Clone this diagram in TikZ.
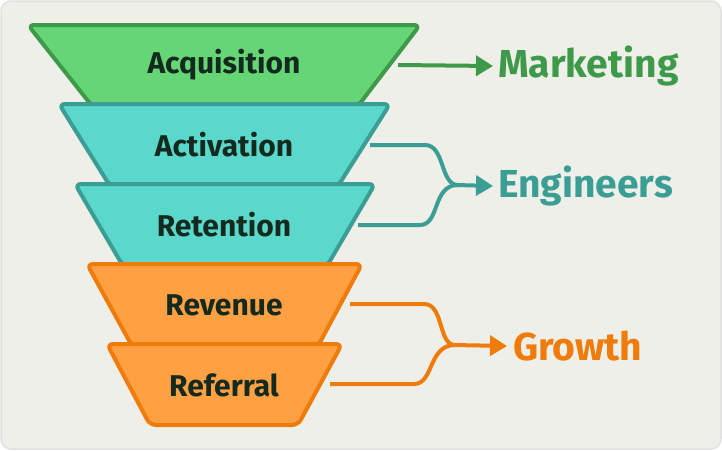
\documentclass[tikz,border=0pt]{standalone}
\usepackage{fontspec}
\setmainfont{Fira Sans}
\usetikzlibrary{arrows.meta}
\definecolor{bg}{HTML}{EFEFEA}
\definecolor{gF}{HTML}{66D575}\definecolor{gS}{HTML}{3E9A4A}
\definecolor{tF}{HTML}{5AD8CB}\definecolor{tS}{HTML}{3A9E94}
\definecolor{oF}{HTML}{FFA043}\definecolor{oS}{HTML}{EE7B0A}
\definecolor{ink}{HTML}{142A1E}
\tikzset{
 trap/.style={line width=4pt,rounded corners=6pt,line join=round},
 lab/.style={font=\fontsize{30}{30}\selectfont\bfseries,text=ink},
 team/.style={font=\fontsize{39}{39}\selectfont\bfseries,anchor=west,inner sep=0pt},
 cl/.style={line width=4pt},
 conn/.style={line width=4pt,-{Triangle[length=17pt,width=20pt]}},
}
\begin{document}
\begin{tikzpicture}[x=1pt,y=-1pt]
\useasboundingbox (0,0) rectangle (722,450);
\draw[fill=bg,draw=black!12,line width=1.5pt,rounded corners=10pt] (1,1) rectangle (721,449);
\draw[trap,fill=gF,draw=gS] (28,25) -- (420,25) -- (358,106) -- (92,106) -- cycle;
\draw[trap,fill=tF,draw=tS] (59,104) -- (390,104) -- (338,186) -- (110,186) -- cycle;
\draw[trap,fill=tF,draw=tS] (75,184) -- (375,184) -- (327,266) -- (123,266) -- cycle;
\draw[trap,fill=oF,draw=oS] (87,264) -- (362,264) -- (318,346) -- (132,346) -- cycle;
\draw[trap,fill=oF,draw=oS] (107,344) -- (342,344) -- (298,425) -- (150,425) -- cycle;
\node[lab] (acq) at (224,65) {Acquisition};
\node[lab] (act) at (224,145) {Activation};
\node[lab] (ret) at (224,225) {Retention};
\node[lab] (rev) at (224,305) {Revenue};
\node[lab] (ref) at (224,385) {Referral};
\node[team,text=gS] (mkt) at (498,66) {Marketing};
\node[team,text=tS] (eng) at (498,186) {Engineers};
\node[team,text=oS] (gro) at (513,346) {Growth};
\coordinate (a1) at (398,65);
\coordinate (e1) at (370,145);
\coordinate (e2) at (358,225);
\coordinate (g1) at (350,304);
\coordinate (g2) at (330,384);
\draw[conn,draw=gS,fill=gS] (a1) -- ([xshift=-5pt]mkt.west);
\draw[cl,tS] (e1) -- (425,145) .. controls (445,145) and (440,185) .. (458,185);
\draw[cl,tS] (e2) -- (420,225) .. controls (440,225) and (432,185) .. (458,185);
\draw[conn,draw=tS,fill=tS] (456,185) -- ([xshift=-5pt]eng.west);
\draw[cl,oS] (g1) -- (424,304) .. controls (444,304) and (438,345) .. (455,345);
\draw[cl,oS] (g2) -- (414,384) .. controls (434,384) and (428,345) .. (455,345);
\draw[conn,draw=oS,fill=oS] (453,345) -- ([xshift=-6pt]gro.west);
\end{tikzpicture}
\end{document}
